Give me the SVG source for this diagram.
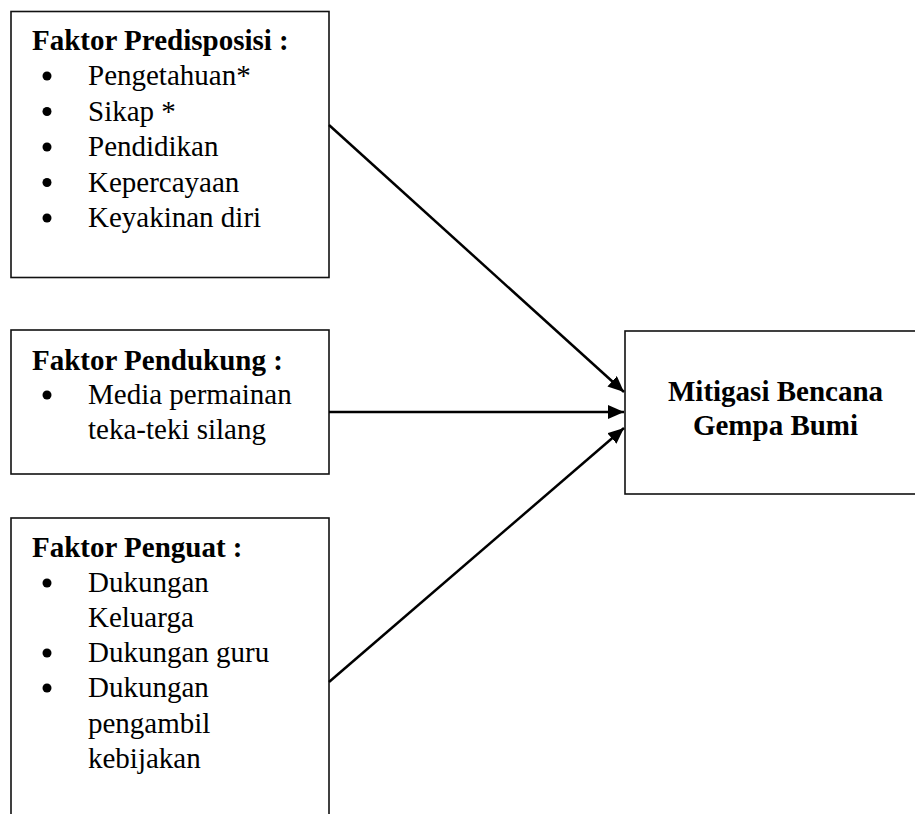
<svg xmlns="http://www.w3.org/2000/svg" width="915" height="814" viewBox="0 0 915 814">
<style>
.box{fill:#fff;stroke:#111;stroke-width:1.6}
.t{font-family:"Liberation Serif","Times New Roman",serif;font-size:29px;fill:#000}
.b{font-weight:bold}
.con{stroke:#000;stroke-width:2.5;fill:none}
</style>
<defs>
<marker id="ah" viewBox="0 0 16 14" refX="16" refY="7" markerWidth="16" markerHeight="14" markerUnits="userSpaceOnUse" orient="auto">
<path d="M0,0 L16,7 L0,14 Z" fill="#000"/>
</marker>
</defs>
<rect width="915" height="814" fill="#fff"/>
<g id="predisposisi">
<rect class="box" x="11" y="11.5" width="318" height="266"/>
<text class="t b" x="32" y="50">Faktor Predisposisi :</text>
<g class="t">
<circle cx="47" cy="76" r="4.5"/><text x="88" y="85">Pengetahuan*</text>
<circle cx="47" cy="111.5" r="4.5"/><text x="88" y="120.5">Sikap *</text>
<circle cx="47" cy="147" r="4.5"/><text x="88" y="156">Pendidikan</text>
<circle cx="47" cy="182.5" r="4.5"/><text x="88" y="191.5">Kepercayaan</text>
<circle cx="47" cy="218" r="4.5"/><text x="88" y="227">Keyakinan diri</text>
</g>
</g>
<g id="pendukung">
<rect class="box" x="11" y="330" width="318" height="144"/>
<text class="t b" x="32" y="370">Faktor Pendukung :</text>
<g class="t">
<circle cx="47" cy="395" r="4.5"/><text x="88" y="404">Media permainan</text>
<text x="88" y="439">teka-teki silang</text>
</g>
</g>
<g id="penguat">
<rect class="box" x="11" y="518" width="318" height="310"/>
<text class="t b" x="32" y="557">Faktor Penguat :</text>
<g class="t">
<circle cx="47" cy="583" r="4.5"/><text x="88" y="592">Dukungan</text>
<text x="88" y="627">Keluarga</text>
<circle cx="47" cy="653" r="4.5"/><text x="88" y="662">Dukungan guru</text>
<circle cx="47" cy="688" r="4.5"/><text x="88" y="697">Dukungan</text>
<text x="88" y="733">pengambil</text>
<text x="88" y="768">kebijakan</text>
</g>
</g>
<g id="mitigasi">
<rect class="box" x="625" y="331" width="300" height="163"/>
<text class="t b" x="775.5" y="401" text-anchor="middle">Mitigasi Bencana</text>
<text class="t b" x="775.5" y="435" text-anchor="middle">Gempa Bumi</text>
</g>
<g id="connectors">
<line class="con" x1="329" y1="125" x2="624" y2="392" marker-end="url(#ah)"/>
<line class="con" x1="329" y1="412" x2="624" y2="412" marker-end="url(#ah)"/>
<line class="con" x1="329" y1="682" x2="624" y2="428" marker-end="url(#ah)"/>
</g>
</svg>
